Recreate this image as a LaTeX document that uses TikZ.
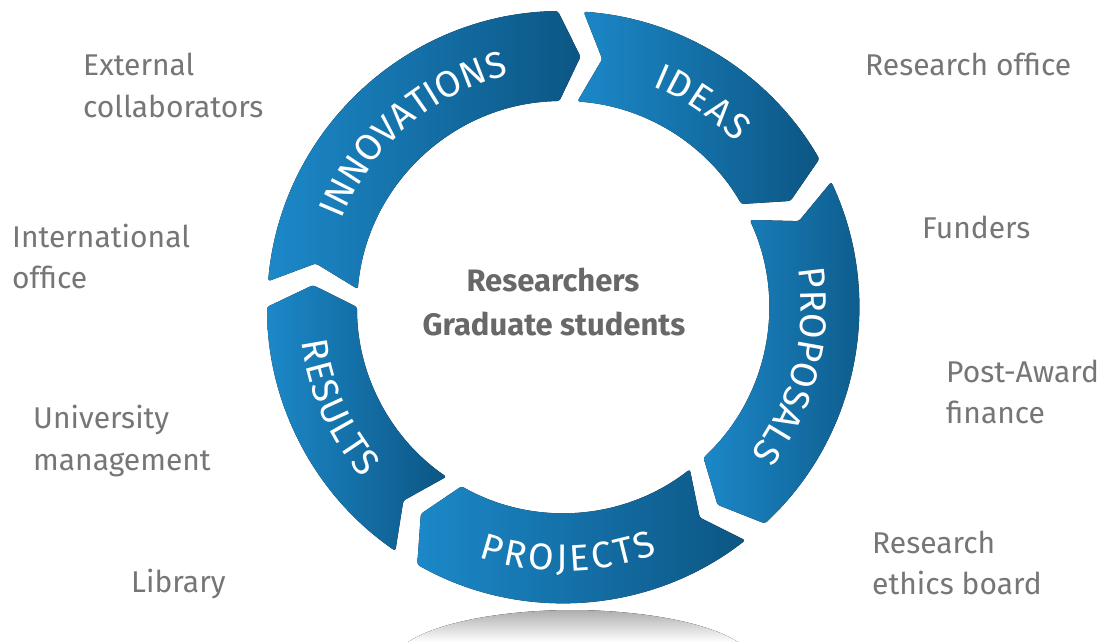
\documentclass[tikz,border=0pt]{standalone}
\usepackage{fontspec}
\setmainfont{Fira Sans}
\usetikzlibrary{decorations.text}
\definecolor{segLight}{RGB}{28,136,200}
\definecolor{segDark}{RGB}{12,86,132}
\definecolor{labelGray}{RGB}{118,118,118}
\definecolor{centerGray}{RGB}{104,104,104}
\newcommand{\segfont}{\fontsize{37}{37}\selectfont}
\def\Rout{296pt}
\def\Rin{206pt}
\def\Rmid{251pt}
\def\chev{5}
\newcommand{\ringseg}[2]{%
  \fill[segfill] (#1:\Rout) arc[start angle=#1, end angle=#2, radius=\Rout]
    -- ({#2-\chev}:\Rmid) -- (#2:\Rin)
    arc[start angle=#2, end angle=#1, radius=\Rin]
    -- ({#1-\chev}:\Rmid) -- cycle;}
\begin{document}
\begin{tikzpicture}[x=1pt,y=1pt,
  segfill/.style={left color=segLight,right color=segDark,rounded corners=2.5pt},
  lab/.style={anchor=base west,inner sep=0pt,text=labelGray,font=\fontsize{30}{36}\selectfont},
  ctr/.style={anchor=base,inner sep=0pt,text=centerGray,font=\fontsize{31}{36}\selectfont\bfseries},
  segtext/.style={decorate,decoration={text along path,text align={fit to path},text color=white,text={#1}}}]
\useasboundingbox (0,0) rectangle (1111,-642);
\fill[white] (0,0) rectangle (1111,-642);
% reflection
\fill[top color=black!32, bottom color=white]
  (408,-642) .. controls (445,-618) and (520,-610) .. (572,-610)
  .. controls (624,-610) and (700,-618) .. (738,-642) -- cycle;
% ring
\begin{scope}[shift={(563,-307)}]
  \ringseg{175}{91}
  \ringseg{86}{30}
  \ringseg{25}{-47}
  \ringseg{-52}{-119.5}
  \ringseg{-124.5}{-180}
  \path[segtext={|\segfont|INNOVATIONS}] (158.5:238pt) arc[start angle=158.5,end angle=103.5,radius=238pt];
  \path[segtext={|\segfont|IDEAS}] (68:238pt) arc[start angle=68,end angle=43.5,radius=238pt];
  \path[segtext={|\segfont|PROPOSALS}] (9.2:238pt) arc[start angle=9.2,end angle=-37.2,radius=238pt];
  \path[segtext={|\segfont|PROJECTS}] (-108.6:264pt) arc[start angle=-108.6,end angle=-69,radius=264pt];
  \path[segtext={|\segfont|RESULTS}] (187.6:264pt) arc[start angle=187.6,end angle=220.5,radius=264pt];
\end{scope}
% centre
\node[ctr] (c1) at (553,-291) {Researchers};
\node[ctr] (c2) at (554,-335) {Graduate students};
% side labels
\node[lab] (ext1) at (83,-75) {External};
\node[lab] (ext2) at (83,-117) {collaborators};
\node[lab] (int1) at (12,-247) {International};
\node[lab] (int2) at (12,-288) {office};
\node[lab] (uni1) at (33,-428) {University};
\node[lab] (uni2) at (33,-470) {management};
\node[lab] (lib) at (131,-592) {Library};
\node[lab] (ro) at (865,-75) {Research office};
\node[lab] (fun) at (922,-238) {Funders};
\node[lab] (pa1) at (946,-382) {Post-Award};
\node[lab] (pa2) at (946,-423) {finance};
\node[lab] (eth1) at (872,-553) {Research};
\node[lab] (eth2) at (872,-594) {ethics board};
\end{tikzpicture}
\end{document}
